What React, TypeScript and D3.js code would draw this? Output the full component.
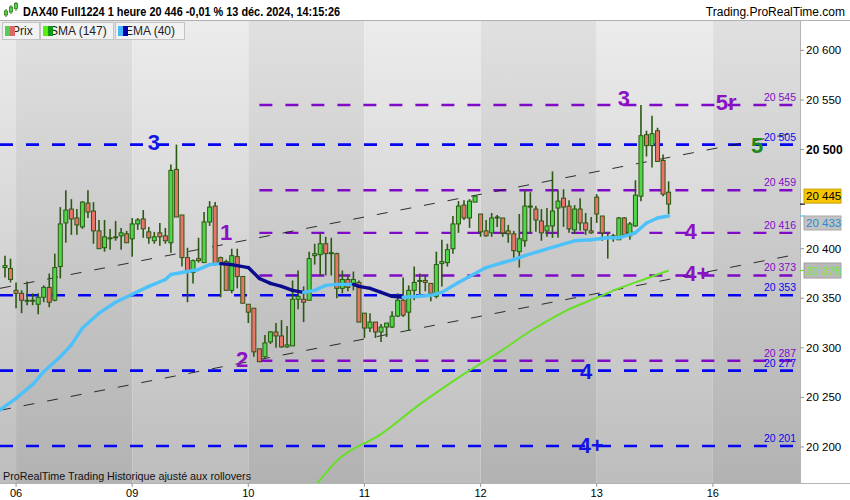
import * as d3 from "d3";

const W = 850;
const H = 500;
const plot = { left: 0, right: 800, top: 21, bottom: 483 };

// hourly OHLC, one entry per bar (bar 0 = 05 Dec late session)
const OPEN = [
  20381, 20380, 20358, 20355, 20347, 20348, 20344, 20351, 20361, 20348,
  20382, 20426, 20440, 20431, 20422, 20446, 20438, 20418, 20401, 20411,
  20412, 20413, 20415, 20410, 20425, 20430, 20417, 20408, 20416, 20413,
  20406, 20480, 20434, 20391, 20376, 20390, 20386, 20427, 20443, 20391,
  20387, 20358, 20392, 20372, 20344, 20340, 20299, 20291, 20306, 20316,
  20312, 20301, 20302, 20349, 20349, 20348, 20393, 20394, 20405, 20395,
  20395, 20360, 20369, 20365, 20366, 20335, 20320, 20326, 20316, 20321,
  20321, 20332, 20348, 20336, 20358, 20368, 20368, 20365, 20352, 20385,
  20386, 20400, 20425, 20444, 20431, 20447, 20435, 20418, 20416, 20432,
  20431, 20418, 20415, 20397, 20408, 20443, 20440, 20428, 20418, 20423,
  20441, 20451, 20443, 20419, 20440, 20426, 20418, 20452, 20433, 20412,
  20412, 20409, 20431, 20413, 20423, 20453, 20515, 20504, 20519, 20489,
  20457,
];
const HIGH = [
  20393, 20390, 20366, 20358, 20367, 20355, 20355, 20363, 20375, 20395,
  20442, 20459, 20450, 20440, 20448, 20459, 20447, 20429, 20429, 20420,
  20428, 20421, 20418, 20431, 20431, 20439, 20422, 20417, 20426, 20421,
  20485, 20505, 20434, 20401, 20389, 20411, 20437, 20448, 20447, 20392,
  20389, 20400, 20400, 20372, 20344, 20340, 20299, 20313, 20317, 20325,
  20328, 20322, 20368, 20378, 20362, 20397, 20405, 20415, 20412, 20411,
  20396, 20378, 20373, 20377, 20368, 20335, 20335, 20326, 20324, 20325,
  20337, 20355, 20371, 20363, 20382, 20375, 20373, 20365, 20397, 20409,
  20405, 20433, 20448, 20449, 20450, 20453, 20435, 20429, 20436, 20434,
  20431, 20424, 20418, 20435, 20459, 20457, 20443, 20440, 20441, 20478,
  20459, 20460, 20449, 20444, 20451, 20436, 20432, 20455, 20433, 20416,
  20415, 20432, 20432, 20427, 20469, 20545, 20519, 20534, 20522, 20495,
  20468,
];
const LOW = [
  20371, 20366, 20340, 20335, 20343, 20343, 20334, 20346, 20341, 20347,
  20370, 20406, 20414, 20414, 20420, 20431, 20405, 20400, 20397, 20399,
  20408, 20399, 20406, 20392, 20419, 20411, 20405, 20405, 20403, 20405,
  20396, 20432, 20382, 20346, 20365, 20386, 20386, 20423, 20383, 20351,
  20358, 20355, 20360, 20345, 20325, 20291, 20286, 20290, 20304, 20300,
  20300, 20300, 20302, 20339, 20326, 20348, 20384, 20373, 20373, 20373,
  20350, 20355, 20357, 20358, 20326, 20310, 20316, 20310, 20306, 20311,
  20320, 20331, 20331, 20317, 20348, 20353, 20357, 20347, 20350, 20362,
  20382, 20395, 20416, 20429, 20421, 20447, 20412, 20412, 20412, 20422,
  20412, 20406, 20391, 20381, 20402, 20416, 20417, 20408, 20412, 20411,
  20411, 20422, 20416, 20415, 20418, 20414, 20415, 20426, 20408, 20390,
  20407, 20409, 20412, 20409, 20422, 20448, 20493, 20482, 20488, 20453,
  20435,
];
const CLOSE = [
  20383, 20369, 20355, 20348, 20348, 20347, 20351, 20361, 20346, 20381,
  20425, 20439, 20430, 20424, 20447, 20437, 20418, 20400, 20412, 20411,
  20412, 20416, 20406, 20425, 20429, 20420, 20411, 20412, 20412, 20408,
  20479, 20432, 20391, 20377, 20388, 20388, 20427, 20442, 20384, 20386,
  20358, 20393, 20372, 20345, 20336, 20296, 20286, 20305, 20316, 20312,
  20301, 20303, 20349, 20352, 20346, 20390, 20395, 20405, 20395, 20396,
  20360, 20369, 20361, 20369, 20326, 20320, 20326, 20316, 20321, 20325,
  20332, 20348, 20333, 20358, 20366, 20368, 20366, 20355, 20384, 20387,
  20399, 20425, 20443, 20431, 20448, 20453, 20417, 20413, 20431, 20432,
  20416, 20415, 20398, 20410, 20443, 20443, 20429, 20416, 20423, 20438,
  20448, 20442, 20420, 20440, 20426, 20419, 20416, 20435, 20416, 20411,
  20413, 20431, 20414, 20425, 20454, 20514, 20504, 20516, 20488, 20455,
  20445,
];

// EMA(40) at these bar positions
const EMA_IDX = [-1, 2, 5, 7, 10, 12, 14, 17, 20, 23, 26, 29, 30, 33, 35, 37, 39, 41, 44, 46, 48, 50, 52, 54, 56, 58, 60, 63, 64, 66, 68, 70, 72, 75, 77, 79, 82, 84, 87, 90, 92, 94, 97, 100, 103, 106, 109, 111, 114, 116, 118, 120];
const EMA_VAL = [20237, 20249, 20263, 20276, 20291, 20303, 20320, 20335, 20346, 20354, 20362, 20369, 20374, 20377, 20379, 20384, 20385, 20384, 20381, 20370, 20365, 20362, 20358, 20356, 20358, 20363, 20364, 20364, 20362, 20360, 20356, 20352, 20351, 20352, 20353, 20356, 20366, 20372, 20381, 20386, 20389, 20393, 20398, 20403, 20408, 20409, 20411, 20411, 20416, 20426, 20431, 20433];

// SMA(147)
const SMA_IDX = [56, 60, 68, 75, 82, 90, 95, 99, 102, 105, 108, 111, 114, 117, 120];
const SMA_VAL = [20160, 20186, 20213, 20243, 20270, 20298, 20317, 20330, 20339, 20346, 20353, 20360, 20366, 20372, 20378];

const DAY_LABELS = ["06", "09", "10", "11", "12", "13", "16"];
const DAY_START = [2, 23, 44, 65, 86, 107, 128];

const BLUE_LEVELS = [20505, 20353, 20277, 20201];
const PURPLE_LEVELS = [20545, 20459, 20416, 20373, 20287];
const PURPLE_FROM = 46;

const CHANNEL_IDX = [0, 120];
const CHANNEL_UPPER = [20361, 20492];
const CHANNEL_LOWER = [20238, 20369];

const PRICE_TICKS = [20600, 20550, 20500, 20400, 20350, 20300, 20250, 20200];

const WAVE_TEXT = ["3", "1", "2", "3", "5r", "5", "4", "4+", "4", "4+"];
const WAVE_IDX = [26.9, 40, 42.9, 111.9, 130.4, 136, 124, 125.1, 105.1, 106];
const WAVE_VAL = [20500, 20409, 20281, 20544, 20540, 20497, 20410, 20367, 20269, 20194];
const WAVE_KIND = ["blue", "purple", "purple", "purple", "purple", "green", "purple", "purple", "blue", "blue"];

const FONT = "'Liberation Sans', Arial, sans-serif";
const BLUE = "#0505f2";
const PURPLE = "#7f0bc6";
const KIND_COLOR: Record<string, string> = { blue: "#1414e6", purple: "#8a12c4", green: "#1c8a1c" };

const fmt = (v: number) => {
  const s = String(Math.round(v));
  return s.slice(0, s.length - 3) + " " + s.slice(-3);
};

const App = () => {
  const x = d3.scaleLinear().domain([-0.904, 143.76]).range([plot.left, plot.right]);
  const y = d3.scaleLinear().domain([20200, 20550]).range([447, 100]);

  // background bands per trading day
  const edges = [plot.left, ...DAY_START.map((d) => x(d)), plot.right];
  const bands = edges.slice(0, -1).map((x0, i) => ({ x0, x1: edges[i + 1], dark: i % 2 === 1 }));

  const channel = (vals: number[]) => {
    const slope = (vals[1] - vals[0]) / (CHANNEL_IDX[1] - CHANNEL_IDX[0]);
    const [d0, d1] = x.domain();
    const f = (k: number) => vals[0] + slope * (k - CHANNEL_IDX[0]);
    return { x1: x(d0), y1: y(f(d0)), x2: x(d1), y2: y(f(d1)) };
  };

  const sma = d3
    .line<number>()
    .x((_, i) => x(SMA_IDX[i]))
    .y((d) => y(d))
    .curve(d3.curveMonotoneX)(SMA_VAL);

  const emaSegs = EMA_VAL.slice(1).map((v, i) => ({
    d: `M${x(EMA_IDX[i])},${y(EMA_VAL[i])}L${x(EMA_IDX[i + 1])},${y(v)}`,
    up: v >= EMA_VAL[i],
  }));

  const last = CLOSE[CLOSE.length - 1];
  const emaLast = EMA_VAL[EMA_VAL.length - 1];
  const smaLast = SMA_VAL[SMA_VAL.length - 1];

  return (
    <svg width={W} height={H} style={{ position: "absolute", left: 0, top: 0, display: "block" }} fontFamily={FONT}>
      <defs>
        <linearGradient id="bgLight" x1="0" y1={plot.top} x2="0" y2={plot.bottom} gradientUnits="userSpaceOnUse">
          <stop offset="0" stopColor="#ececec" />
          <stop offset="1" stopColor="#bdbdbd" />
        </linearGradient>
        <linearGradient id="bgDark" x1="0" y1={plot.top} x2="0" y2={plot.bottom} gradientUnits="userSpaceOnUse">
          <stop offset="0" stopColor="#e0e0e0" />
          <stop offset="1" stopColor="#b2b2b2" />
        </linearGradient>
        <clipPath id="plotClip">
          <rect x={plot.left} y={plot.top} width={plot.right - plot.left} height={plot.bottom - plot.top} />
        </clipPath>
      </defs>

      <rect width={W} height={H} fill="#ffffff" />

      {bands.map((b, i) => (
        <rect key={i} x={b.x0} y={plot.top} width={b.x1 - b.x0} height={plot.bottom - plot.top} fill={b.dark ? "url(#bgDark)" : "url(#bgLight)"} />
      ))}

      <g clipPath="url(#plotClip)">
        {/* level lines */}
        {BLUE_LEVELS.map((lv) => (
          <line key={"b" + lv} x1={plot.left} x2={plot.right} y1={y(lv)} y2={y(lv)} stroke={BLUE} strokeWidth={2.6} strokeDasharray="13,13" />
        ))}
        {PURPLE_LEVELS.map((lv) => (
          <line key={"p" + lv} x1={x(PURPLE_FROM)} x2={plot.right} y1={y(lv)} y2={y(lv)} stroke={PURPLE} strokeWidth={2.4} strokeDasharray="13,13" />
        ))}

        {/* channel */}
        {[CHANNEL_UPPER, CHANNEL_LOWER].map((c, i) => {
          const l = channel(c);
          return <line key={i} {...l} stroke="#111" strokeWidth={1} strokeDasharray="11,13" opacity={0.85} />;
        })}

        {/* SMA */}
        <path d={sma ?? ""} fill="none" stroke="#66e024" strokeWidth={2} />

        {/* candles */}
        {OPEN.map((o, i) => {
          const c = CLOSE[i];
          const cx = x(i);
          const top = y(Math.max(o, c));
          const bot = y(Math.min(o, c));
          return (
            <g key={i}>
              <line x1={cx} x2={cx} y1={y(HIGH[i])} y2={y(LOW[i])} stroke="#2b5912" strokeWidth={1.6} />
              <rect x={cx - 2} y={top} width={4} height={Math.max(bot - top, 1)} fill={c >= o ? "#4fd64a" : "#e8746a"} stroke="#2b5912" strokeWidth={1} />
            </g>
          );
        })}

        {/* EMA */}
        {emaSegs.map((s, i) => (
          <path key={i} d={s.d} fill="none" stroke={s.up ? "#4cc1fa" : "#0b0b8e"} strokeWidth={3.4} strokeLinecap="round" />
        ))}

        {/* level labels */}
        {BLUE_LEVELS.map((lv) => (
          <text key={"bt" + lv} x={796} y={y(lv) - 4} textAnchor="end" fontSize={10.5} fill={BLUE}>{fmt(lv)}</text>
        ))}
        {PURPLE_LEVELS.map((lv) => (
          <text key={"pt" + lv} x={796} y={y(lv) - 4} textAnchor="end" fontSize={10.5} fill={PURPLE}>{fmt(lv)}</text>
        ))}

        {/* wave counts */}
        {WAVE_TEXT.map((t, i) => (
          <text key={"w" + i} x={x(WAVE_IDX[i])} y={y(WAVE_VAL[i])} textAnchor="middle" fontSize={22} fontWeight="bold" fill={KIND_COLOR[WAVE_KIND[i]]}>{t}</text>
        ))}

        <text x={3} y={480} fontSize={11.5} fill="#111" textLength={248} lengthAdjust="spacingAndGlyphs">ProRealTime Trading Historique ajusté aux rollovers</text>
      </g>

      {/* right axis */}
      <line x1={plot.right + 0.5} x2={plot.right + 0.5} y1={plot.top} y2={plot.bottom} stroke="#b4b4b4" />
      {PRICE_TICKS.map((t) => (
        <g key={t}>
          <line x1={plot.right} x2={plot.right + 4} y1={y(t)} y2={y(t)} stroke="#999" />
          <text x={806} y={y(t) + 4} fontSize={t === 20500 ? 12 : 11.5} fontWeight={t === 20500 ? "bold" : "normal"} fill="#000">{fmt(t)}</text>
        </g>
      ))}

      {/* price markers */}
      <line x1={plot.right} x2={plot.right + 5} y1={y(last)} y2={y(last)} stroke="#000" strokeWidth={1.2} />
      <rect x={804} y={y(last) - 15} width={37} height={14} fill="#f7c600" stroke="#c9a000" />
      <text x={806} y={y(last) - 4} fontSize={11.5} fill="#000">{fmt(last)}</text>

      <line x1={plot.right} x2={plot.right + 5} y1={y(emaLast)} y2={y(emaLast)} stroke="#4cc1fa" strokeWidth={1.2} />
      <rect x={804} y={y(emaLast)} width={37} height={14} fill="#c3c3c3" stroke="#a8a8a8" />
      <text x={806} y={y(emaLast) + 11} fontSize={11.5} fill="#2a8ad0">{fmt(emaLast)}</text>

      <line x1={plot.right} x2={plot.right + 5} y1={y(smaLast)} y2={y(smaLast)} stroke="#66e024" strokeWidth={1.2} />
      <rect x={804} y={y(smaLast) - 7.5} width={37} height={15} fill="#b9b9b9" stroke="#a0a0a0" />
      <text x={806} y={y(smaLast) + 4} fontSize={11.5} fill="#6cf02c">{fmt(smaLast)}</text>

      {/* bottom axis */}
      <line x1={0} x2={W} y1={plot.bottom + 0.5} y2={plot.bottom + 0.5} stroke="#b4b4b4" />
      {DAY_LABELS.map((d, i) => (
        <g key={d}>
          <line x1={x(DAY_START[i])} x2={x(DAY_START[i])} y1={plot.bottom} y2={plot.bottom + 4} stroke="#999" />
          <text x={x(DAY_START[i])} y={497} textAnchor="middle" fontSize={11} fill="#000">{d}</text>
        </g>
      ))}

      {/* header */}
      <line x1={0} x2={W} y1={plot.top - 0.5} y2={plot.top - 0.5} stroke="#b0b0b0" />
      <g>
        <line x1={6} x2={6} y1={9} y2={17} stroke="#2b7a12" />
        <rect x={4.5} y={11} width={3} height={4} fill="#4fd64a" stroke="#2b7a12" strokeWidth={0.8} />
        <line x1={11} x2={11} y1={5} y2={14} stroke="#2b7a12" />
        <rect x={9.5} y={7} width={3} height={5} fill="#4fd64a" stroke="#2b7a12" strokeWidth={0.8} />
        <line x1={16} x2={16} y1={2} y2={11} stroke="#2b7a12" />
        <rect x={14.5} y={3.5} width={3} height={5} fill="#4fd64a" stroke="#2b7a12" strokeWidth={0.8} />
      </g>
      <text x={23} y={16} fontSize={12} fontWeight="bold" fill="#000" textLength={317} lengthAdjust="spacingAndGlyphs">DAX40 Full1224 1 heure 20 446 -0,01 % 13 déc. 2024, 14:15:26</text>
      <text x={845} y={16} textAnchor="end" fontSize={12} fill="#000">Trading.ProRealTime.com</text>

      {/* legend */}
      {[
        { x0: 2, w: 37, label: "Prix", c1: "#55cc55", c2: "#e06666" },
        { x0: 40, w: 73, label: "SMA (147)", c1: "#55ee11", c2: "#119911" },
        { x0: 115, w: 69, label: "EMA (40)", c1: "#44b8ff", c2: "#0000b0" },
      ].map((l) => (
        <g key={l.label}>
          <rect x={l.x0 + 0.5} y={22.5} width={l.w} height={17} fill="#f2f2f2" stroke="#c4c4c4" />
          <text x={l.x0 + 10} y={35} fontSize={12} fill="#222">{l.label}</text>
          <rect x={l.x0 + 3} y={26} width={5} height={10} fill={l.c1} />
          <rect x={l.x0 + 8} y={26} width={5} height={10} fill={l.c2} />
        </g>
      ))}
    </svg>
  );
};

export default App;
